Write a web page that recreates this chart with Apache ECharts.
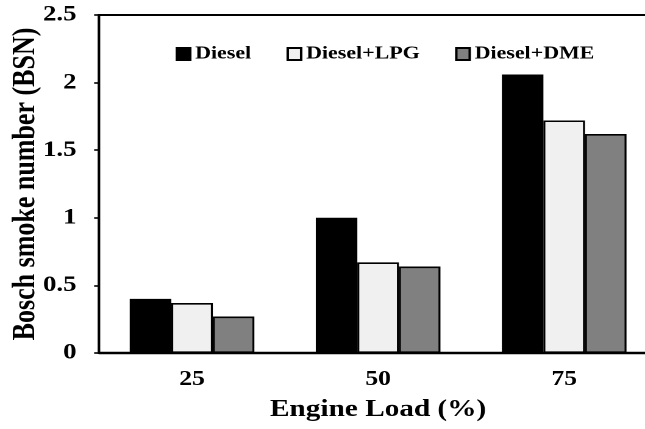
<!DOCTYPE html>
<html>
<head>
<meta charset="utf-8">
<script src="https://cdn.jsdelivr.net/npm/echarts@6/dist/echarts.min.js"></script>
<style>
  html, body { margin: 0; padding: 0; background: #fff; overflow: hidden; }
  /* the figure is drawn narrow and widened, giving the broad serif lettering of the original plot */
  #chart { width: 529px; height: 429px; transform: scaleX(1.2193); transform-origin: 0 0; }
</style>
</head>
<body>
<div id="chart"></div>
<script>
// Engine loads on the x axis
const loads = ['25', '50', '75'];
// Bosch smoke number (BSN) per fuel mode
const diesel    = [0.40, 1.00, 2.06];
const dieselLpg = [0.37, 0.67, 1.72];
const dieselDme = [0.27, 0.64, 1.62];
const seriesNames = ['Diesel', 'Diesel+LPG', 'Diesel+DME'];

const serif = "'Liberation Serif', 'Times New Roman', serif";
const chart = echarts.init(document.getElementById('chart'), null, { devicePixelRatio: 2 });

function barSeries(name, data, color) {
  return {
    name: name,
    type: 'bar',
    data: data,
    barGap: '0%',
    barCategoryGap: '33%',
    itemStyle: { color: color, borderColor: '#000', borderWidth: 1.6 },
    emphasis: { disabled: true }
  };
}

chart.setOption({
  animation: false,
  backgroundColor: '#fff',
  grid: {
    left: 81.2, top: 15, bottom: 76, right: -10,
    outerBoundsMode: 'none',
    containLabel: false,
    show: true, borderColor: '#000', borderWidth: 2, backgroundColor: 'transparent'
  },
  legend: {
    data: seriesNames,
    left: 139, top: 40,
    itemWidth: 11, itemHeight: 12, itemGap: 29,
    icon: 'rect',
    textStyle: { fontFamily: serif, fontWeight: 'bold', fontSize: 18, color: '#000', padding: [0, 0, 0, -1] }
  },
  xAxis: {
    type: 'category',
    data: loads,
    name: 'Engine Load (%)',
    nameLocation: 'middle',
    nameGap: 45,
    nameMoveOverlap: false,
    nameTextStyle: { fontFamily: serif, fontWeight: 'bold', fontSize: 24, color: '#000' },
    axisLine: { lineStyle: { color: '#000', width: 2.4 } },
    axisTick: { show: false },
    axisLabel: { margin: 16, fontFamily: serif, fontWeight: 'bold', fontSize: 21, color: '#000' }
  },
  yAxis: {
    type: 'value',
    min: 0, max: 2.5, interval: 0.5,
    name: 'Bosch smoke number (BSN)',
    nameLocation: 'middle',
    nameGap: 47,
    nameMoveOverlap: false,
    nameTextStyle: { fontFamily: serif, fontWeight: 'bold', fontSize: 26, color: '#000' },
    axisLine: { show: true, lineStyle: { color: '#000', width: 1.8 } },
    axisTick: { show: true, inside: false, length: 4, lineStyle: { color: '#000', width: 1.6 } },
    splitLine: { show: false },
    axisLabel: { margin: 18.5, fontFamily: serif, fontWeight: 'bold', fontSize: 22, color: '#000' }
  },
  series: [
    barSeries(seriesNames[0], diesel, '#000000'),
    barSeries(seriesNames[1], dieselLpg, '#f0f0f0'),
    barSeries(seriesNames[2], dieselDme, '#808080')
  ]
});
</script>
</body>
</html>
